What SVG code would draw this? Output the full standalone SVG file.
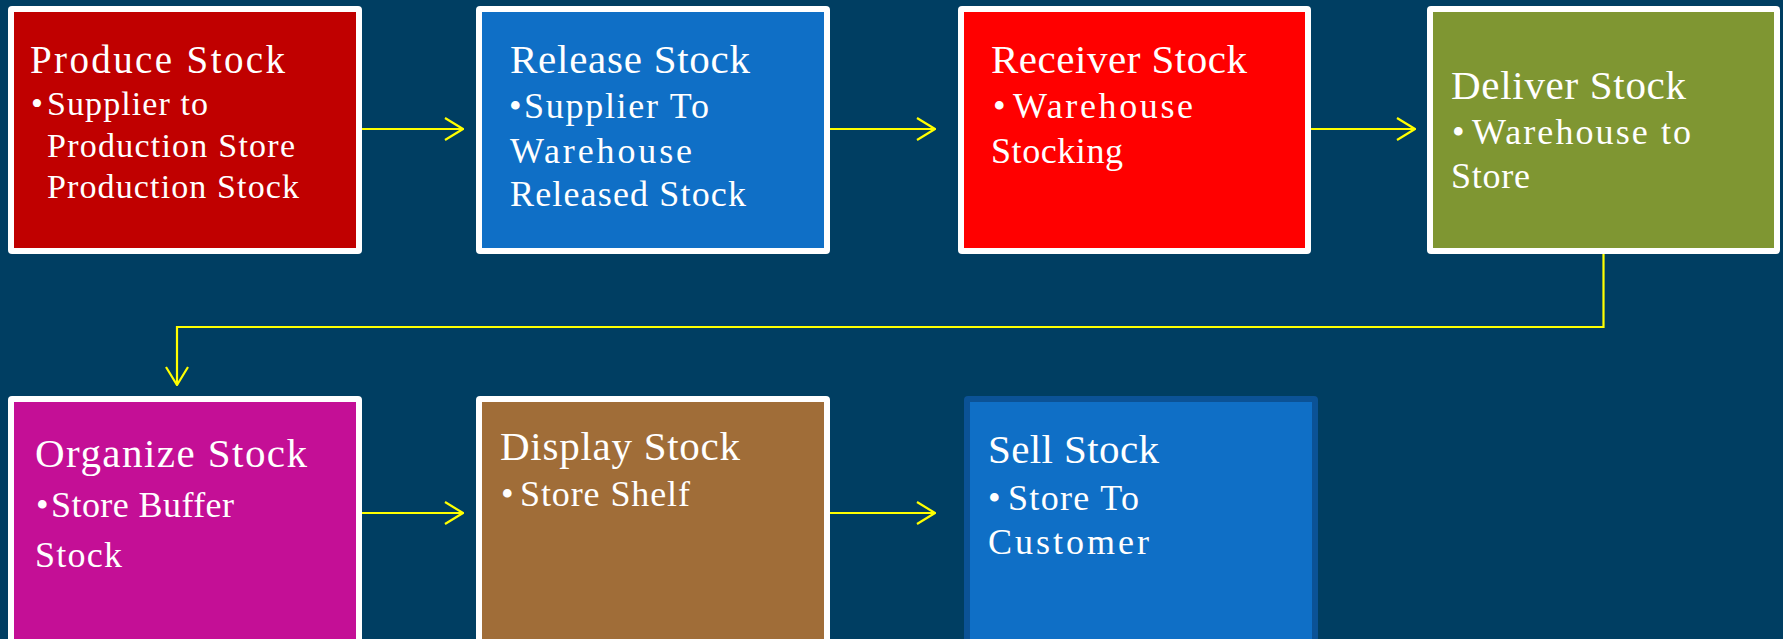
<svg xmlns="http://www.w3.org/2000/svg" width="1783" height="639" viewBox="0 0 1783 639">
<defs>
<style>
text{font-family:"Liberation Serif","Times New Roman",serif;fill:#ffffff}
.t{font-size:41px}
.b{font-size:36px}
.t1{font-size:39px}
.b1{font-size:34px}
.frame{fill:#ffffff}
.conn{fill:none;stroke:#ffff00;stroke-width:2.2}
</style>
<marker id="ah" viewBox="0 0 20 24" refX="19" refY="12" markerWidth="20" markerHeight="24" markerUnits="userSpaceOnUse" orient="auto">
<path d="M1,1 L19,12 L1,23" fill="none" stroke="#ffff00" stroke-width="2.2"/>
</marker>
</defs>
<rect x="0" y="0" width="1783" height="639" fill="#003e62"/>

<g id="produce">
<rect class="frame" x="8" y="6" width="354" height="248" rx="4"/>
<rect x="14" y="12" width="342" height="236" fill="#c00000"/>
<text class="t1" x="30" y="73" textLength="255" lengthAdjust="spacing">Produce Stock</text>
<text class="b1" y="115"><tspan x="31">•</tspan><tspan x="47" textLength="161" lengthAdjust="spacing">Supplier to</tspan></text>
<text class="b1" x="47" y="157" textLength="248" lengthAdjust="spacing">Production Store</text>
<text class="b1" x="47" y="198" textLength="252" lengthAdjust="spacing">Production Stock</text>
</g>

<g id="release">
<rect class="frame" x="476" y="6" width="354" height="248" rx="4"/>
<rect x="482" y="12" width="342" height="236" fill="#0f6fc6"/>
<text class="t" x="510" y="73" textLength="240" lengthAdjust="spacing">Release Stock</text>
<text class="b" y="118"><tspan x="509">•</tspan><tspan x="524" textLength="185" lengthAdjust="spacing">Supplier To</tspan></text>
<text class="b" x="510" y="163" textLength="182" lengthAdjust="spacing">Warehouse</text>
<text class="b" x="510" y="206" textLength="236" lengthAdjust="spacing">Released Stock</text>
</g>

<g id="receiver">
<rect class="frame" x="958" y="6" width="353" height="248" rx="4"/>
<rect x="964" y="12" width="341" height="236" fill="#ff0000"/>
<text class="t" x="991" y="73" textLength="256" lengthAdjust="spacing">Receiver Stock</text>
<text class="b" y="118"><tspan x="993">•</tspan><tspan x="1013" textLength="180" lengthAdjust="spacing">Warehouse</tspan></text>
<text class="b" x="991" y="163" textLength="132" lengthAdjust="spacing">Stocking</text>
</g>

<g id="deliver">
<rect class="frame" x="1427" y="6" width="353" height="248" rx="4"/>
<rect x="1433" y="12" width="341" height="236" fill="#7f9632"/>
<text class="t" x="1451" y="99" textLength="235" lengthAdjust="spacing">Deliver Stock</text>
<text class="b" y="144"><tspan x="1452">•</tspan><tspan x="1472" textLength="219" lengthAdjust="spacing">Warehouse to</tspan></text>
<text class="b" x="1451" y="188" textLength="79" lengthAdjust="spacing">Store</text>
</g>

<g id="organize">
<rect class="frame" x="8" y="396" width="354" height="260" rx="4"/>
<rect x="14" y="402" width="342" height="250" fill="#c40f96"/>
<text class="t" x="35" y="467" textLength="272" lengthAdjust="spacing">Organize Stock</text>
<text class="b" y="517"><tspan x="36">•</tspan><tspan x="51" textLength="183" lengthAdjust="spacing">Store Buffer</tspan></text>
<text class="b" x="35" y="567" textLength="87" lengthAdjust="spacing">Stock</text>
</g>

<g id="display">
<rect class="frame" x="476" y="396" width="354" height="260" rx="4"/>
<rect x="482" y="402" width="342" height="250" fill="#a06d38"/>
<text class="t" x="500" y="460" textLength="240" lengthAdjust="spacing">Display Stock</text>
<text class="b" y="506"><tspan x="501">•</tspan><tspan x="520" textLength="170" lengthAdjust="spacing">Store Shelf</tspan></text>
</g>

<g id="sell">
<rect x="964" y="396" width="354" height="260" rx="4" fill="#0b5296"/>
<rect x="970" y="402" width="342" height="250" fill="#0f6fc6"/>
<text class="t" x="988" y="463" textLength="171" lengthAdjust="spacing">Sell Stock</text>
<text class="b" y="510"><tspan x="988">•</tspan><tspan x="1008" textLength="131" lengthAdjust="spacing">Store To</tspan></text>
<text class="b" x="988" y="554" textLength="161" lengthAdjust="spacing">Customer</text>
</g>

<g id="connectors">
<path class="conn" d="M362,129 H463" marker-end="url(#ah)"/>
<path class="conn" d="M830,129 H935" marker-end="url(#ah)"/>
<path class="conn" d="M1311,129 H1415" marker-end="url(#ah)"/>
<path class="conn" d="M1603.5,254 V327 H177 V385" marker-end="url(#ah)"/>
<path class="conn" d="M362,513 H463" marker-end="url(#ah)"/>
<path class="conn" d="M830,513 H935" marker-end="url(#ah)"/>
</g>
</svg>
